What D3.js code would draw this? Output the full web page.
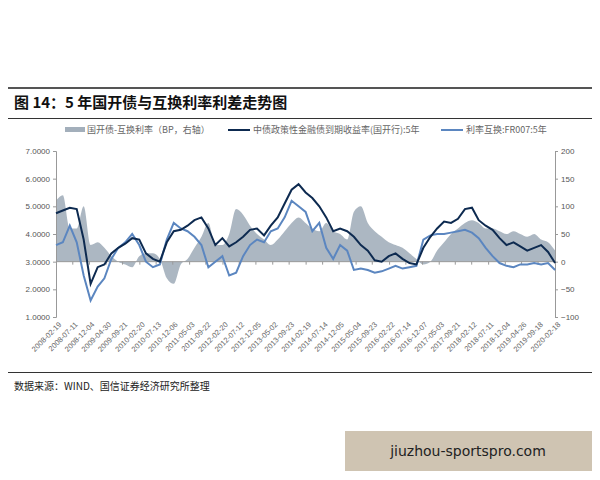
<!DOCTYPE html>
<html><head><meta charset="utf-8">
<script src="https://cdn.jsdelivr.net/npm/d3@7"></script>
<style>body{margin:0;background:#fff;font-family:"Noto Sans CJK SC",sans-serif}</style>
</head><body><svg id="c" width="600" height="480"></svg>
<script>
// bi-monthly samples, Feb 2008 .. Feb 2020
var cdbYield = [4.75,4.85,4.95,4.9,3.8,2.2, 2.8,2.9,3.3,3.5,3.65,3.85, 3.8,3.3,3.1,3.0,3.7,4.1,
  4.15,4.3,4.5,4.6,4.2,3.6, 3.85,3.55,3.7,3.9,4.15,4.2, 3.95,4.3,4.6,5.1,5.6,5.8,
  5.5,5.3,5.0,4.6,4.1,4.2, 4.1,3.9,3.6,3.4,3.05,3.0, 3.2,3.3,3.1,2.95,2.9,3.5,
  3.9,4.2,4.45,4.4,4.55,4.9, 4.95,4.5,4.3,4.15,3.85,3.6, 3.7,3.55,3.4,3.5,3.6,3.35, 2.95]
var swapRate = [3.6,3.7,4.3,3.7,2.5,1.6, 2.1,2.4,3.1,3.5,3.7,4.0, 3.6,3.0,2.8,2.9,3.8,4.4,
  4.2,4.1,3.9,3.6,2.8,3.0, 3.2,2.5,2.6,3.2,3.6,3.8, 3.7,4.1,4.2,4.6,5.2,5.0,
  4.8,4.1,4.4,3.5,3.1,3.6, 3.4,2.7,2.75,2.7,2.6,2.65, 2.75,2.85,2.75,2.8,2.85,3.8,
  3.95,4.0,4.0,4.05,4.1,4.15, 4.05,3.85,3.5,3.2,2.95,2.85, 2.8,2.9,2.9,2.95,2.9,2.95, 2.7]
var spreadBp = [110,120,60,60,100,30, 35,25,10,0,-5,-10, 10,15,15,5,-30,-40,
  -5,5,25,45,70,30, 30,50,95,85,65,50, 40,30,40,55,70,80,
  70,60,55,70,55,50, 40,90,100,70,55,45, 35,30,25,15,5,-5,
  0,20,35,50,60,70, 75,70,60,60,55,50, 55,50,45,50,40,35, 20]
var tickLabels = ["2008-02-19","2008-07-11","2008-12-04","2009-04-30","2009-09-21","2010-02-20","2010-07-13",
  "2010-12-06","2011-05-03","2011-09-22","2012-02-20","2012-07-12","2012-12-05","2013-05-02","2013-09-23",
  "2014-02-19","2014-07-14","2014-12-05","2015-05-04","2015-09-23","2016-02-22","2016-07-14","2016-12-07",
  "2017-05-03","2017-09-21","2018-02-12","2018-07-11","2018-12-04","2019-04-26","2019-09-18","2020-02-18"]
var leftTicks = [1,2,3,4,5,6,7]
var rightTicks = [-100,-50,0,50,100,150,200]

var parse = d3.timeParse("%Y-%m-%d")
var dates = cdbYield.map((d,i) => new Date(2008, 1 + i*2, 19))

var svg = d3.select("#c")
var dim = {left:56, right:555, top:151, bottom:317}

var x = d3.scaleTime().domain([parse("2008-02-19"), parse("2020-02-18")]).range([dim.left, dim.right])
var yL = d3.scaleLinear().domain([1,7]).range([dim.bottom, dim.top])
var yR = d3.scaleLinear().domain([-100,200]).range([dim.bottom, dim.top])

// header
svg.append("rect").attr("x",8).attr("y",87).attr("width",584).attr("height",2).attr("fill","#555")
svg.append("text").attr("x",14).attr("y",108).attr("font-size",15).attr("font-weight","bold").attr("fill","#111")
  .text("图 14：5 年国开债与互换利率利差走势图")
svg.append("rect").attr("x",8).attr("y",118).attr("width",584).attr("height",1).attr("fill","#333")

// legend
var lg = svg.append("g").attr("font-size",9).attr("fill","#666")
lg.append("rect").attr("x",65).attr("y",127).attr("width",20).attr("height",5).attr("fill","#a3afbb")
lg.append("text").attr("x",87).attr("y",133).text("国开债-互换利率（BP，右轴）")
lg.append("rect").attr("x",228).attr("y",129).attr("width",22).attr("height",2).attr("fill","#0d2a50")
lg.append("text").attr("x",253).attr("y",133).text("中债政策性金融债到期收益率(国开行):5年")
lg.append("rect").attr("x",441).attr("y",129).attr("width",22).attr("height",2).attr("fill","#5b86c0")
lg.append("text").attr("x",466).attr("y",133).text("利率互换:FR007:5年")

// spread
svg.append("path").datum(spreadBp)
  .attr("d", d3.area().x((d,i) => x(dates[i])).y0(yR(0)).y1(d => yR(d)).curve(d3.curveMonotoneX))
  .attr("fill","#a3afbb").attr("opacity",0.9)

// axes
var axL = svg.append("g").attr("transform",`translate(${dim.left},0)`)
  .call(d3.axisLeft(yL).tickValues(leftTicks).tickFormat(d3.format(".4f")).tickSize(3))
var axR = svg.append("g").attr("transform",`translate(${dim.right},0)`)
  .call(d3.axisRight(yR).tickValues(rightTicks).tickSize(3))
;[axL,axR].forEach(a => {
  a.selectAll("path,line").attr("stroke","#999")
  a.selectAll("text").attr("fill","#555").attr("font-size",8).attr("font-family","Liberation Sans,sans-serif")
})
svg.append("line").attr("x1",dim.left).attr("x2",dim.right).attr("y1",yR(0)).attr("y2",yR(0)).attr("stroke","#999")
var axB = svg.append("g").attr("transform",`translate(0,${yR(0)})`)
  .call(d3.axisBottom(x).tickValues(tickLabels.map(parse)).tickSize(3).tickFormat(""))
axB.select(".domain").remove()
axB.selectAll("line").attr("stroke","#999")
svg.append("g").selectAll("text").data(tickLabels).join("text")
  .attr("transform", d => `translate(${x(parse(d))+6},${dim.bottom+8}) rotate(-45)`)
  .attr("text-anchor","end").attr("font-size",7.5).attr("fill","#666")
  .attr("font-family","Liberation Sans,sans-serif").text(d => d)

// lines
var line = d3.line().x((d,i) => x(dates[i])).y(d => yL(d))
svg.append("path").datum(swapRate).attr("d",line).attr("fill","none").attr("stroke","#5b86c0").attr("stroke-width",2)
svg.append("path").datum(cdbYield).attr("d",line).attr("fill","none").attr("stroke","#0d2a50").attr("stroke-width",2)

// footer
svg.append("rect").attr("x",8).attr("y",372).attr("width",584).attr("height",1).attr("fill","#333")
svg.append("text").attr("x",14).attr("y",390).attr("font-size",10).attr("fill","#222")
  .text("数据来源：WIND、国信证券经济研究所整理")

// watermark
svg.append("rect").attr("x",345).attr("y",431).attr("width",247).attr("height",40).attr("fill","#cfc4b2")
svg.append("text").attr("x",468).attr("y",456).attr("text-anchor","middle").attr("font-size",14)
  .attr("fill","#222").attr("font-family","DejaVu Sans,sans-serif").text("jiuzhou-sportspro.com")
</script></body></html>
